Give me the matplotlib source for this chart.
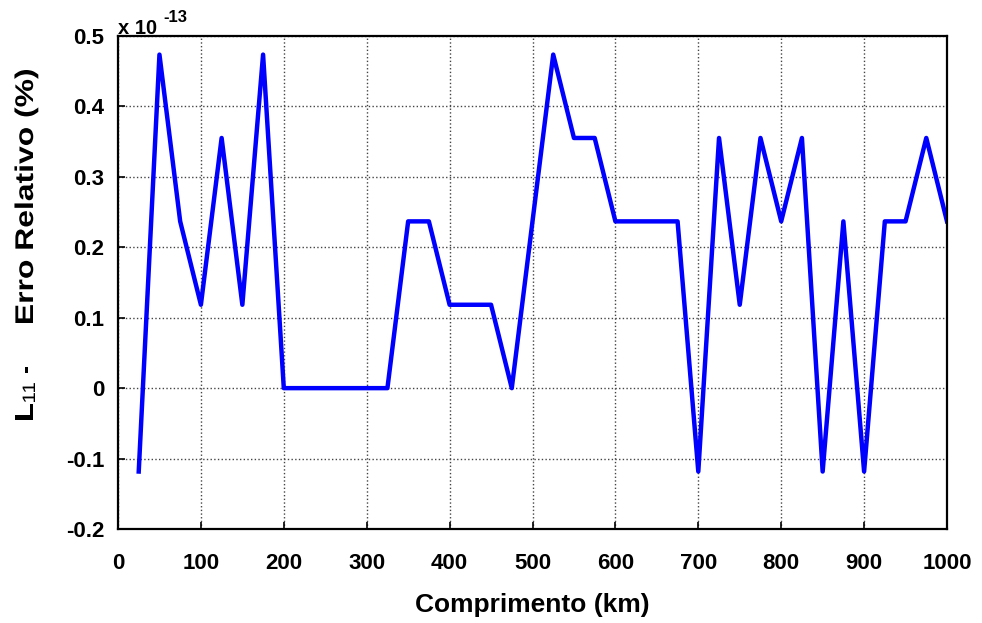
import numpy as np
import matplotlib.pyplot as plt
from matplotlib.font_manager import FontProperties
from matplotlib.textpath import TextPath
from matplotlib.patches import PathPatch
from matplotlib.transforms import Affine2D, IdentityTransform

plt.rcParams['font.family'] = ['Liberation Sans', 'DejaVu Sans']
plt.rcParams['font.weight'] = 'bold'

# comprimento (km) and erro relativo (units of 1e-13 %)
comprimento = [25, 50, 75, 100, 125, 150, 175, 200, 225, 250, 275, 300, 325,
               350, 375, 400, 425, 450, 475, 500, 525, 550, 575, 600, 625,
               650, 675, 700, 725, 750, 775, 800, 825, 850, 875, 900, 925,
               950, 975, 1000]
q = 0.1184
erro = [-1, 4, 2, 1, 3, 1, 4, 0, 0, 0, 0, 0, 0,
        2, 2, 1, 1, 1, 0, 2, 4, 3, 3, 2, 2,
        2, 2, -1, 3, 1, 3, 2, 3, -1, 2, -1, 2,
        2, 3, 2]
erro = [q * e for e in erro]

xticks = [0, 100, 200, 300, 400, 500, 600, 700, 800, 900, 1000]
yticks = [-0.2, -0.1, 0, 0.1, 0.2, 0.3, 0.4, 0.5]
yticklabels = ['-0.2', '-0.1', '0', '0.1', '0.2', '0.3', '0.4', '0.5']

W, H = 982, 623
fig = plt.figure(figsize=(W / 100, H / 100), dpi=100)
ax = fig.add_axes([118 / W, 1 - 529 / H, (947 - 118) / W, (529 - 36) / H])

ax.plot(comprimento, erro, color='#0000ff', linewidth=3.2)

ax.set_xlim(0, 1000)
ax.set_ylim(-0.2, 0.5)
ax.set_xticks(xticks)
ax.set_yticks(yticks)
ax.set_yticklabels(yticklabels)
ax.tick_params(direction='in', length=5, width=1.2, labelsize=16,
               top=False, right=False)
ax.tick_params(axis='x', pad=17)
ax.tick_params(axis='y', pad=10)
for lab in ax.get_xticklabels() + ax.get_yticklabels():
    lab.set_fontweight('bold')
ax.grid(True, linestyle=':', color='#444444', linewidth=1.0)
for s in ax.spines.values():
    s.set_linewidth(1.6)

ax.set_xlabel('Comprimento (km)', fontsize=19, fontweight='bold', labelpad=14)


# y label: stretched bold text drawn as rotated paths (pixel coords)
def vtext(s, size, weight, start, baseline, stretch=None, end=None):
    fp = FontProperties(family='Liberation Sans', weight=weight)
    p = TextPath((0, 0), s, size=size, prop=fp)
    ext = p.get_extents()
    if end is not None:
        stretch = (start - end) / ext.width
    tr = (Affine2D().translate(-ext.x0, 0).scale(stretch, 1).rotate_deg(90)
          .translate(baseline, H - start))
    fig.patches.append(PathPatch(tr.transform_path(p), color='black', lw=0,
                                 transform=IdentityTransform(), figure=fig))


vtext('L', 25.6, 'bold', 420, 33, stretch=1.25)
vtext('11', 18, 'normal', 402, 35, stretch=1.15)
vtext('-', 25.6, 'bold', 373, 33, stretch=1.0)
vtext('Erro Relativo (%)', 25.6, 'bold', 323, 33, end=70)

fig.text(118 / W, 1 - 29 / H, 'x 10', fontsize=14.5, fontweight='bold',
         ha='left', va='center')
fig.text(163 / W, 1 - 17 / H, '-13', fontsize=12, fontweight='bold',
         ha='left', va='center')

fig.savefig('out.png', dpi=100)
